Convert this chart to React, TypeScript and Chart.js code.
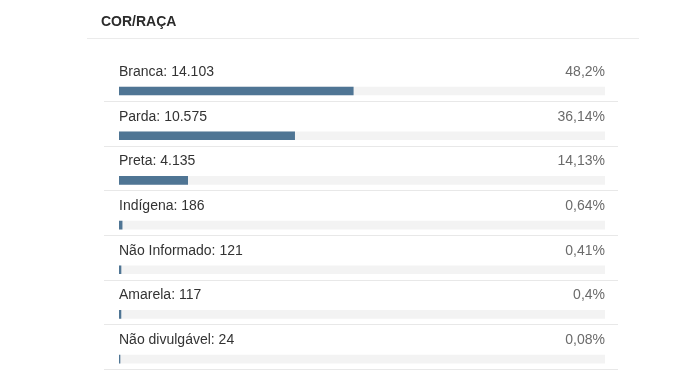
import React, { useEffect, useRef } from "react";
import { Chart, registerables } from "chart.js";

Chart.register(...registerables);

const title = "COR/RAÇA";
const categories = ["Branca", "Parda", "Preta", "Indígena", "Não Informado", "Amarela", "Não divulgável"];
const counts = [14103, 10575, 4135, 186, 121, 117, 24];
const percents = [48.2, 36.14, 14.13, 0.64, 0.41, 0.4, 0.08];
const trackValues = [100, 100, 100, 100, 100, 100, 100];

const FONT = "'Liberation Sans', Arial, Helvetica, sans-serif";

function fmtCount(n: number): string {
  return String(n).replace(/\B(?=(\d{3})+(?!\d))/g, ".");
}
function fmtPct(p: number): string {
  return String(p).replace(".", ",") + "%";
}

const overlayPlugin = {
  id: "overlay",
  afterDraw(chart: any) {
    const ctx = chart.ctx;
    const xs = chart.scales.x;
    const meta = chart.getDatasetMeta(0);
    ctx.save();
    // title
    ctx.fillStyle = "#2b2b2b";
    ctx.font = `bold 14px ${FONT}`;
    ctx.textBaseline = "middle";
    ctx.textAlign = "left";
    ctx.fillText(title, 101, 22);
    ctx.strokeStyle = "#ebebeb";
    ctx.lineWidth = 1;
    ctx.beginPath();
    ctx.moveTo(87, 38.5);
    ctx.lineTo(639, 38.5);
    ctx.stroke();

    meta.data.forEach((bar: any, i: number) => {
      const cy = bar.y;
      ctx.font = `14px ${FONT}`;
      ctx.fillStyle = "#333333";
      ctx.textAlign = "left";
      ctx.fillText(`${categories[i]}: ${fmtCount(counts[i])}`, xs.left, cy - 19);
      ctx.fillStyle = "#6b6b6b";
      ctx.textAlign = "right";
      ctx.fillText(fmtPct(percents[i]), xs.right, cy - 19);
      const ly = Math.round(cy + 10) + 0.5;
      ctx.strokeStyle = "#e8e8e8";
      ctx.beginPath();
      ctx.moveTo(104, ly);
      ctx.lineTo(618, ly);
      ctx.stroke();
    });
    ctx.restore();
  },
};

export default function App() {
  const ref = useRef<HTMLCanvasElement | null>(null);
  useEffect(() => {
    if (!ref.current) return;
    const chart = new Chart(ref.current, {
      type: "bar",
      data: {
        labels: categories,
        datasets: [
          {
            label: "Percentual",
            data: percents,
            backgroundColor: "#4f7594",
            barThickness: 8,
            minBarLength: 1,
            grouped: false,
            order: 0,
          } as any,
          {
            label: "Fundo",
            data: trackValues,
            backgroundColor: "#f3f3f3",
            barThickness: 8,
            grouped: false,
            order: 1,
          } as any,
        ],
      },
      options: {
        indexAxis: "y",
        animation: false,
        responsive: false,
        maintainAspectRatio: false,
        layout: { padding: { left: 119, right: 91, top: 68.7, bottom: 5.6 } },
        scales: {
          x: { display: false, min: 0, max: 100 },
          y: { display: false },
        },
        plugins: {
          legend: { display: false },
          tooltip: { enabled: false },
        },
      },
      plugins: [overlayPlugin],
    });
    return () => chart.destroy();
  }, []);
  return (
    <div style={{ position: "absolute", left: 0, top: 0, width: 696, height: 387, background: "#fff" }}>
      <canvas ref={ref} width={696} height={387} style={{ display: "block", width: 696, height: 387 }} />
    </div>
  );
}
